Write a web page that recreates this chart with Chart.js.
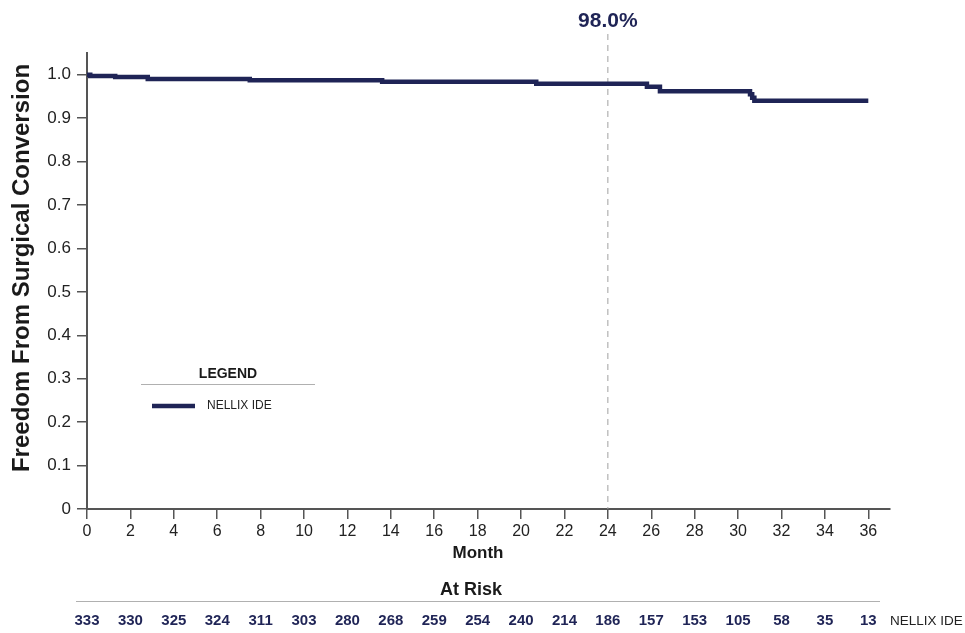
<!DOCTYPE html>
<html>
<head>
<meta charset="utf-8">
<script src="https://cdn.jsdelivr.net/npm/chart.js@4"></script>
<style>
  html, body { margin: 0; padding: 0; background: #fff; }
  #wrap { width: 965px; height: 633px; }
</style>
</head>
<body>
<div id="wrap"><canvas id="km_chart" width="965" height="633"></canvas></div>
<script>
// Kaplan-Meier steps: month of event, survival after it
const eventMonths = [0, 0.15, 1.3, 2.8, 7.5, 13.6, 20.7, 25.8, 26.4, 30.55, 30.65, 30.75, 36.0];
const survival    = [1.0, 0.997, 0.995, 0.990, 0.987, 0.984, 0.979, 0.972, 0.962, 0.955, 0.947, 0.940, 0.940];

const riskMonths = [0, 2, 4, 6, 8, 10, 12, 14, 16, 18, 20, 22, 24, 26, 28, 30, 32, 34, 36];
const atRisk = [333, 330, 325, 324, 311, 303, 280, 268, 259, 254, 240, 214, 186, 157, 153, 105, 58, 35, 13];

const seriesName = 'NELLIX IDE';
const markMonth = 24;
const markLabel = '98.0%';

const navy = '#1f2456';
const axisGrey = '#555';
const font = "'Liberation Sans', Arial, sans-serif";

const overlay = {
    id: 'overlay',
    beforeDatasetsDraw(chart) {
        const ctx = chart.ctx;
        const x = chart.scales.x.getPixelForValue(markMonth);
        ctx.save();
        ctx.strokeStyle = '#a0a0a0';
        ctx.lineWidth = 1;
        ctx.setLineDash([6, 5]);
        ctx.beginPath();
        ctx.moveTo(x, 34);
        ctx.lineTo(x, chart.chartArea.bottom);
        ctx.stroke();
        ctx.restore();
    },
    afterDraw(chart) {
        const ctx = chart.ctx;
        const xs = chart.scales.x;
        ctx.save();

        // marker label
        ctx.fillStyle = navy;
        ctx.font = 'bold 21px ' + font;
        ctx.textAlign = 'center';
        ctx.textBaseline = 'middle';
        ctx.fillText(markLabel, xs.getPixelForValue(markMonth), 21);

        // axis titles
        ctx.fillStyle = '#1a1a1a';
        ctx.font = 'bold 17px ' + font;
        ctx.fillText('Month', 478, 553);
        ctx.save();
        ctx.translate(22, 268);
        ctx.rotate(-Math.PI / 2);
        ctx.font = 'bold 24px ' + font;
        ctx.fillText('Freedom From Surgical Conversion', 0, 0);
        ctx.restore();

        // legend box
        ctx.font = 'bold 14px ' + font;
        ctx.fillText('LEGEND', 228, 374);
        ctx.strokeStyle = '#b0b0b0';
        ctx.lineWidth = 1;
        ctx.beginPath();
        ctx.moveTo(141, 384.5);
        ctx.lineTo(315, 384.5);
        ctx.stroke();
        ctx.strokeStyle = navy;
        ctx.lineWidth = 4.5;
        ctx.beginPath();
        ctx.moveTo(152, 406);
        ctx.lineTo(195, 406);
        ctx.stroke();
        ctx.fillStyle = '#222';
        ctx.font = '12px ' + font;
        ctx.textAlign = 'left';
        ctx.fillText(seriesName, 207, 406);

        // at risk table
        ctx.textAlign = 'center';
        ctx.fillStyle = '#1a1a1a';
        ctx.font = 'bold 18px ' + font;
        ctx.fillText('At Risk', 471, 590);
        ctx.strokeStyle = '#b0b0b0';
        ctx.lineWidth = 1;
        ctx.beginPath();
        ctx.moveTo(76, 601.5);
        ctx.lineTo(880, 601.5);
        ctx.stroke();
        ctx.fillStyle = navy;
        ctx.font = 'bold 15px ' + font;
        riskMonths.forEach((m, i) => {
            ctx.fillText(String(atRisk[i]), xs.getPixelForValue(m), 621);
        });
        ctx.textAlign = 'left';
        ctx.fillStyle = '#222';
        ctx.font = '13.5px ' + font;
        ctx.fillText(seriesName, 890, 621);

        ctx.restore();
    }
};

const cty = document.getElementById('km_chart');
const km_chart = new Chart(cty, {
    type: 'line',
    data: {
        datasets: [{
            label: seriesName,
            data: eventMonths.map((m, i) => ({ x: m, y: survival[i] })),
            borderColor: navy,
            backgroundColor: navy,
            borderWidth: 4.5,
            pointRadius: 0,
            stepped: true,
            fill: false
        }]
    },
    options: {
        responsive: false,
        animation: false,
        layout: {
            padding: { top: 53, right: 75, bottom: 67, left: 0 }
        },
        plugins: {
            legend: { display: false },
            tooltip: { enabled: false }
        },
        scales: {
            x: {
                type: 'linear',
                min: 0,
                max: 37,
                bounds: 'data',
                afterFit: (s) => { s.height = 57; },
                afterBuildTicks: (s) => { s.ticks = s.ticks.filter(t => t.value <= 36); },
                border: { display: true, color: axisGrey, width: 2 },
                grid: { drawOnChartArea: false, drawTicks: true, tickLength: 10, color: axisGrey, lineWidth: 1.5 },
                ticks: {
                    stepSize: 2,
                    includeBounds: false,
                    autoSkip: false,
                    maxRotation: 0,
                    padding: 3,
                    color: '#222',
                    font: { family: font, size: 16 }
                }
            },
            y: {
                min: 0,
                max: 1.05,
                bounds: 'data',
                afterFit: (s) => { s.width = 87; },
                border: { display: true, color: axisGrey, width: 2 },
                grid: { drawOnChartArea: false, drawTicks: true, tickLength: 10, color: axisGrey, lineWidth: 1.5 },
                ticks: {
                    stepSize: 0.1,
                    includeBounds: false,
                    padding: 6,
                    color: '#222',
                    font: { family: font, size: 17 },
                    callback: (v) => v === 0 ? '0' : v.toFixed(1)
                }
            }
        }
    },
    plugins: [overlay]
});
</script>
</body>
</html>
